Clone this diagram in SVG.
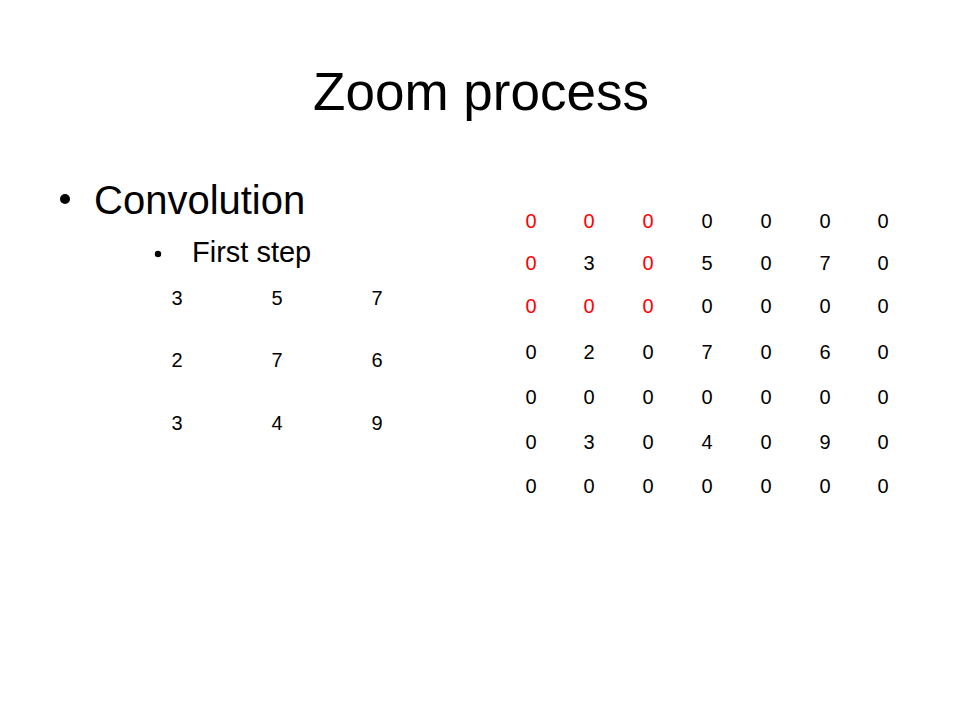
<svg xmlns="http://www.w3.org/2000/svg" width="960" height="720" viewBox="0 0 960 720">
<style>
text{font-family:"Liberation Sans",Arial,sans-serif;fill:#000}
.d{font-size:20px;text-anchor:middle}
.r{fill:#ff0000}
</style>
<rect width="960" height="720" fill="#fff"/>
<g id="title"><text x="481" y="110" font-size="53" text-anchor="middle">Zoom process</text></g>
<g id="bullets">
<circle cx="65" cy="199" r="5"/>
<text x="94" y="214" font-size="40">Convolution</text>
<circle cx="158" cy="254" r="3.2"/>
<text x="192" y="262" font-size="29">First step</text>
</g>
<g id="small-matrix">
<text class="d" x="177" y="305">3</text><text class="d" x="277" y="305">5</text><text class="d" x="377" y="305">7</text>
<text class="d" x="177" y="367">2</text><text class="d" x="277" y="367">7</text><text class="d" x="377" y="367">6</text>
<text class="d" x="177" y="430">3</text><text class="d" x="277" y="430">4</text><text class="d" x="377" y="430">9</text>
</g>
<g id="zoomed-matrix">
<text class="d r" x="531" y="228">0</text><text class="d r" x="589" y="228">0</text><text class="d r" x="648" y="228">0</text><text class="d" x="707" y="228">0</text><text class="d" x="766" y="228">0</text><text class="d" x="825" y="228">0</text><text class="d" x="883" y="228">0</text>
<text class="d r" x="531" y="270">0</text><text class="d" x="589" y="270">3</text><text class="d r" x="648" y="270">0</text><text class="d" x="707" y="270">5</text><text class="d" x="766" y="270">0</text><text class="d" x="825" y="270">7</text><text class="d" x="883" y="270">0</text>
<text class="d r" x="531" y="313">0</text><text class="d r" x="589" y="313">0</text><text class="d r" x="648" y="313">0</text><text class="d" x="707" y="313">0</text><text class="d" x="766" y="313">0</text><text class="d" x="825" y="313">0</text><text class="d" x="883" y="313">0</text>
<text class="d" x="531" y="359">0</text><text class="d" x="589" y="359">2</text><text class="d" x="648" y="359">0</text><text class="d" x="707" y="359">7</text><text class="d" x="766" y="359">0</text><text class="d" x="825" y="359">6</text><text class="d" x="883" y="359">0</text>
<text class="d" x="531" y="404">0</text><text class="d" x="589" y="404">0</text><text class="d" x="648" y="404">0</text><text class="d" x="707" y="404">0</text><text class="d" x="766" y="404">0</text><text class="d" x="825" y="404">0</text><text class="d" x="883" y="404">0</text>
<text class="d" x="531" y="449">0</text><text class="d" x="589" y="449">3</text><text class="d" x="648" y="449">0</text><text class="d" x="707" y="449">4</text><text class="d" x="766" y="449">0</text><text class="d" x="825" y="449">9</text><text class="d" x="883" y="449">0</text>
<text class="d" x="531" y="493">0</text><text class="d" x="589" y="493">0</text><text class="d" x="648" y="493">0</text><text class="d" x="707" y="493">0</text><text class="d" x="766" y="493">0</text><text class="d" x="825" y="493">0</text><text class="d" x="883" y="493">0</text>
</g>
</svg>
